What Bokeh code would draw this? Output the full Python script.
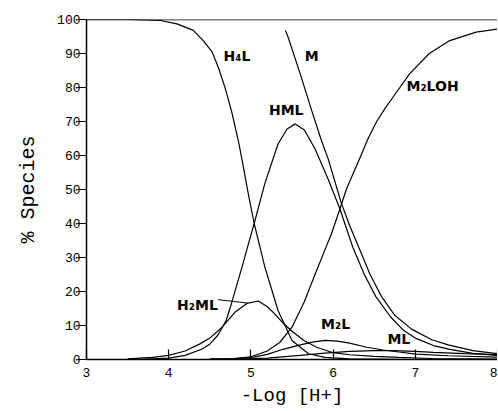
from bokeh.plotting import figure
from bokeh.models import Range1d, FixedTicker, Label, Span
from bokeh.embed import file_html
from bokeh.resources import INLINE

# ---- axes ----
x_ticks = [3, 4, 5, 6, 7, 8]
y_ticks = [0, 10, 20, 30, 40, 50, 60, 70, 80, 90, 100]
x_label = "-Log [H+]"
y_label = "% Species"

# ---- species curves ----
h4l_x = [3.0, 3.5, 3.9, 4.1, 4.3, 4.42, 4.53, 4.61, 4.69, 4.77, 4.85, 4.89, 4.97, 5.04,
         5.17, 5.33, 5.5, 5.7, 5.9, 6.2, 7.0, 8.0]
h4l_y = [100, 100, 99.7, 98.7, 96.8, 93.8, 90.4, 85.5, 79.6, 72.5, 64, 59, 48.5, 40,
         27.2, 14.4, 5.6, 1.7, 0.6, 0.2, 0.0, 0.0]

hml_x = [3.6, 4.0, 4.2, 4.4, 4.5, 4.6, 4.7, 4.77, 4.89, 4.97, 5.04, 5.17, 5.33, 5.44,
         5.54, 5.65, 5.78, 5.94, 6.08, 6.24, 6.38, 6.52, 6.7, 6.86, 7.0, 7.22, 7.42, 7.7, 8.0]
hml_y = [0.0, 0.4, 1.2, 3.0, 4.5, 7.2, 11.5, 17, 27, 34, 40, 51.8, 63.4, 67.8,
         69.3, 67.5, 62, 53, 44.5, 33, 25, 18.5, 12.5, 8.5, 6.3, 4.1, 3.0, 1.8, 1.2]

m_x = [5.42, 5.45, 5.6, 5.74, 5.85, 5.94, 6.02, 6.1, 6.2, 6.33, 6.45, 6.59, 6.75,
       6.95, 7.2, 7.4, 7.7, 8.0]
m_y = [96.8, 95, 84, 73.2, 65, 59, 52.5, 46, 39.5, 32, 25, 18.5, 13,
       9, 5.8, 4.3, 2.6, 1.7]

m2loh_x = [4.5, 4.8, 5.0, 5.2, 5.35, 5.5, 5.65, 5.78, 5.88, 5.98, 6.1, 6.16, 6.33,
           6.43, 6.53, 6.63, 6.73, 6.93, 7.17, 7.42, 7.74, 8.0]
m2loh_y = [0.1, 0.3, 0.8, 2.5, 5, 9.5, 17, 25, 31, 37, 45.5, 50, 59.5,
           65.2, 70, 73.8, 77.2, 84, 90, 93.8, 96.3, 97.2]

h2ml_x = [3.5, 3.8, 4.0, 4.2, 4.38, 4.5, 4.65, 4.81, 4.95, 5.09, 5.2, 5.29, 5.4,
          5.5, 5.65, 5.8, 6.0, 6.2, 6.5, 6.8, 7.2, 8.0]
h2ml_y = [0.2, 0.6, 1.2, 2.5, 4.6, 6.3, 9.5, 14, 16.5, 17.2, 15.5, 13.4, 10.5,
          8.3, 5.5, 3.6, 2.0, 1.4, 0.9, 0.6, 0.3, 0.1]

m2l_x = [4.5, 4.8, 5.03, 5.2, 5.39, 5.6, 5.75, 5.9, 6.05, 6.2, 6.41, 6.61, 6.8, 7.01, 7.4, 8.0]
m2l_y = [0.1, 0.3, 0.7, 1.5, 3.0, 4.3, 5.1, 5.6, 5.4, 4.8, 3.6, 2.8, 2.2, 1.6, 1.1, 0.7]

ml_x = [4.8, 5.2, 5.6, 5.9, 6.2, 6.5, 6.73, 7.0, 7.22, 7.6, 8.0]
ml_y = [0.1, 0.4, 1.2, 1.9, 2.4, 2.6, 2.6, 2.4, 2.1, 1.7, 1.4]

series = [
    (h4l_x, h4l_y), (hml_x, hml_y), (m_x, m_y), (m2loh_x, m2loh_y),
    (h2ml_x, h2ml_y), (m2l_x, m2l_y), (ml_x, ml_y),
]

# ---- curve labels (annotation text and anchor) ----
species_names = ["H\u2084L", "M", "HML", "M\u2082LOH", "H\u2082ML", "M\u2082L", "ML"]
label_x = [4.83, 5.74, 5.43, 7.21, 4.35, 6.03, 6.80]
label_y = [89.4, 89.4, 73.5, 80.3, 15.9, 10.3, 5.9]
leader_x = [4.60, 4.96]
leader_y = [17.6, 16.6]

AX_FONT = "Liberation Mono"

p = figure(width=497, height=425, output_backend="svg", toolbar_location=None,
           x_range=Range1d(x_ticks[0], x_ticks[-1]), y_range=Range1d(y_ticks[0], y_ticks[-1]),
           min_border_left=86, min_border_right=0, min_border_top=19, min_border_bottom=66)

p.background_fill_color = "white"
p.border_fill_color = "white"
p.outline_line_color = None
p.grid.visible = False

for xs, ys in series:
    p.line(xs, ys, line_color="black", line_width=1.2)

p.line(leader_x, leader_y, line_color="black", line_width=1.0)

p.add_layout(Span(location=y_ticks[-1], dimension="width", line_color="black", line_width=1.6))

# axes
p.xaxis.ticker = FixedTicker(ticks=x_ticks)
p.yaxis.ticker = FixedTicker(ticks=y_ticks)
p.xaxis.minor_tick_line_color = None
p.yaxis.minor_tick_line_color = None
p.xaxis.major_tick_in = 10
p.xaxis.major_tick_out = 0
p.yaxis.major_tick_in = 0
p.yaxis.major_tick_out = 9
for ax in (p.xaxis, p.yaxis):
    ax.axis_line_width = 1.5
    ax.axis_line_color = "black"
    ax.major_tick_line_color = "black"
    ax.major_tick_line_width = 1.2
    ax.major_label_text_font = AX_FONT
    ax.major_label_text_font_size = "13px"
    ax.major_label_text_color = "black"
    ax.axis_label_text_font = AX_FONT
    ax.axis_label_text_font_style = "normal"
    ax.axis_label_text_color = "black"
p.xaxis.axis_label_text_font_size = "19px"
p.yaxis.axis_label_text_font_size = "20px"
p.xaxis.major_label_standoff = 8
p.yaxis.major_label_standoff = -3
p.xaxis.axis_label = x_label
p.yaxis.axis_label = y_label
p.xaxis.axis_label_standoff = 5
p.yaxis.axis_label_standoff = 14

for name, lx, ly in zip(species_names, label_x, label_y):
    p.add_layout(Label(x=lx, y=ly, text=name, text_align="center", text_baseline="middle",
                       text_font="DejaVu Sans", text_font_style="bold",
                       text_font_size="14px", text_color="black"))

open("out.html", "w").write(file_html(p, INLINE))
